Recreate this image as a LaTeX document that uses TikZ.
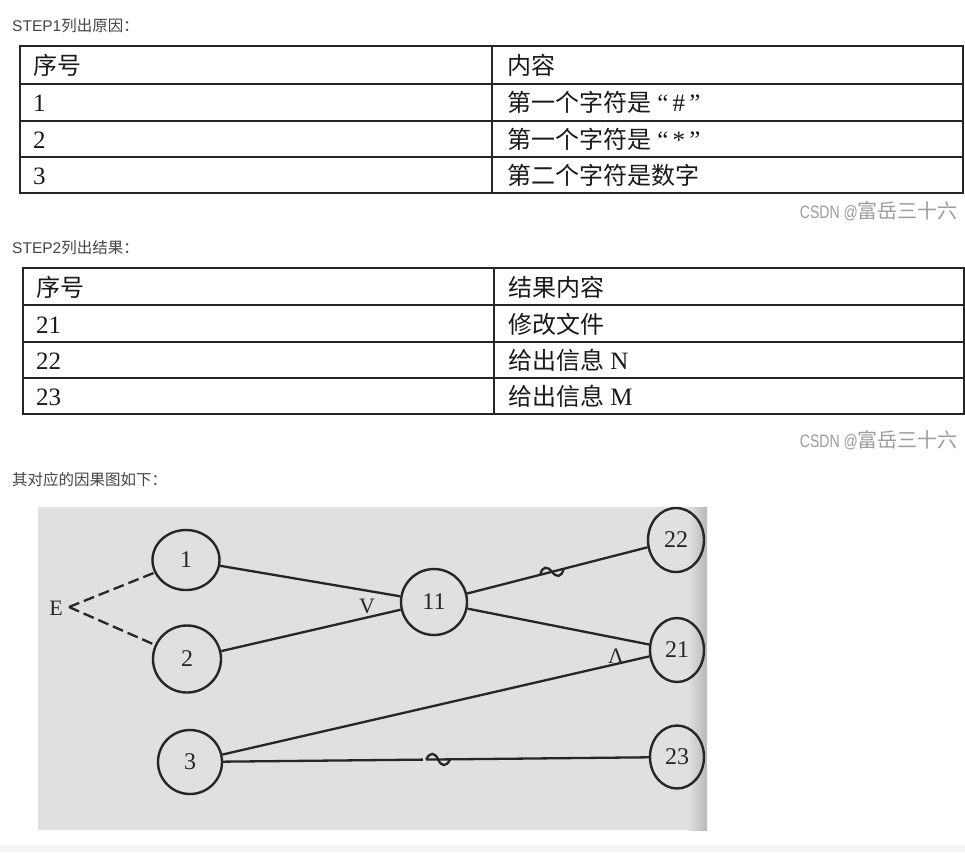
\documentclass[tikz,border=0pt]{standalone}
\usepackage{fontspec}
\setmainfont{Liberation Serif}
\setsansfont{Liberation Sans}
\newfontfamily\cjk{Noto Sans CJK SC}
\usetikzlibrary{shapes.geometric}
\definecolor{bgc}{HTML}{E0E0E0}
\definecolor{ink}{HTML}{262626}
\definecolor{headc}{HTML}{444444}
\definecolor{wmc}{HTML}{9C9C9C}
\newcommand\zh[1]{{\cjk\fontsize{24}{24}\selectfont #1}}
\begin{document}
\begin{tikzpicture}[x=1pt,y=-1pt,
  tline/.style={line width=1.3pt,draw=black!85},
  cell/.style={anchor=base west,inner sep=0pt,font=\fontsize{25}{25}\selectfont,text=black!90},
  head/.style={anchor=base west,inner sep=0pt,font=\sffamily\fontsize{15.5}{15.5}\selectfont,text=headc},
  wm/.style={anchor=base east,inner sep=0pt,text=wmc},
  cnode/.style={ellipse,draw=ink,line width=2.4pt,inner sep=0pt,font=\fontsize{24}{24}\selectfont,text=ink},
  conn/.style={draw=ink,line width=2.3pt},
  lbl/.style={inner sep=0pt,font=\fontsize{22}{22}\selectfont,text=ink},
  tilde/.pic={\draw[conn] (-12,0) .. controls (-8,-8) and (-3,-7) .. (0,0) .. controls (3,7) and (8,8) .. (12,0);},
  tildegap/.pic={\fill[bgc] (-15,-3) rectangle (-12,3);
    \draw[conn] (-12,0) .. controls (-8,-8) and (-3,-7) .. (0,0) .. controls (3,7) and (8,8) .. (12,0);},
]
\useasboundingbox (0,0) rectangle (965,852);
\fill[white] (0,0) rectangle (965,852);
\fill[black!4] (0,845) rectangle (965,852);

% ---------- STEP1 ----------
\node[head] (h1) at (12,31) {STEP1{\cjk 列出原因：}};
\draw[tline] (20,46) rectangle (963,193);
\draw[tline] (20,84) -- (963,84);
\draw[tline] (20,121) -- (963,121);
\draw[tline] (20,157) -- (963,157);
\draw[tline] (492,46) -- (492,193);
\node[cell] (a0) at (33,74.5) {\zh{序号}};
\node[cell] (b0) at (507,74.5) {\zh{内容}};
\node[cell] (a1) at (33,111.5) {1};
\node[cell] (b1) at (507,111.5) {\zh{第一个字符是} “\,\#\,”};
\node[cell] (a2) at (33,148) {2};
\node[cell] (b2) at (507,148) {\zh{第一个字符是} “\,*\,”};
\node[cell] (a3) at (33,184.5) {3};
\node[cell] (b3) at (507,184.5) {\zh{第二个字符是数字}};
\node[wm] (w1) at (958,218) {\sffamily\fontsize{18}{18}\selectfont\scalebox{0.78}[1]{CSDN @}{\cjk\fontsize{20}{20}\selectfont 富岳三十六}};

% ---------- STEP2 ----------
\node[head] (h2) at (12,253) {STEP2{\cjk 列出结果：}};
\draw[tline] (23,268) rectangle (964,414);
\draw[tline] (23,305) -- (964,305);
\draw[tline] (23,342) -- (964,342);
\draw[tline] (23,378) -- (964,378);
\draw[tline] (494,268) -- (494,414);
\node[cell] (c0) at (36,296) {\zh{序号}};
\node[cell] (d0) at (508,296) {\zh{结果内容}};
\node[cell] (c1) at (36,333) {21};
\node[cell] (d1) at (508,333) {\zh{修改文件}};
\node[cell] (c2) at (36,369.5) {22};
\node[cell] (d2) at (508,369.5) {\zh{给出信息} N};
\node[cell] (c3) at (36,405.5) {23};
\node[cell] (d3) at (508,405.5) {\zh{给出信息} M};
\node[wm] (w2) at (958,447) {\sffamily\fontsize{18}{18}\selectfont\scalebox{0.78}[1]{CSDN @}{\cjk\fontsize{20}{20}\selectfont 富岳三十六}};

% ---------- cause-effect graph ----------
\node[head] (h3) at (12,485) {{\cjk 其对应的因果图如下：}};
\fill[bgc] (38,507) rectangle (707,830);
\shade[left color=bgc,right color=black!28] (688,507) rectangle (707,830);

\node[cnode,minimum width=67pt,minimum height=60pt] (n1) at (186,560) {1};
\node[cnode,minimum width=68pt,minimum height=67pt] (n2) at (187,659) {2};
\node[cnode,minimum width=64pt,minimum height=64pt] (n3) at (190,762) {3};
\node[cnode,minimum width=66pt,minimum height=66pt] (n11) at (434,602) {11};
\node[cnode,minimum width=56pt,minimum height=64pt] (n22) at (676,540) {22};
\node[cnode,minimum width=54pt,minimum height=64pt] (n21) at (677,650) {21};
\node[cnode,minimum width=54pt,minimum height=63pt] (n23) at (677,757) {23};

\node[lbl] (E) at (56,608) {E};
\coordinate (Ev) at (69,607);
\node[lbl] (V) at (367,606) {V};
\node[lbl] (L) at (616,656) {Λ};

\draw[conn,dash pattern=on 11pt off 5pt] (Ev) -- (n1);
\draw[conn,dash pattern=on 11pt off 5pt] (Ev) -- (n2);
\draw[conn] (n1) -- (n11);
\draw[conn] (n2) -- (n11);
\draw[conn] (n11) -- (n22);
\draw[conn] (n11) -- (n21);
\draw[conn] (n3) -- (n21);
\draw[conn] (n3) -- (n23);
\path (n11) -- (n22) pic[pos=0.47,sloped]{tilde};
\path (n3) -- (n23) pic[pos=0.505,sloped]{tildegap};
\end{tikzpicture}
\end{document}
